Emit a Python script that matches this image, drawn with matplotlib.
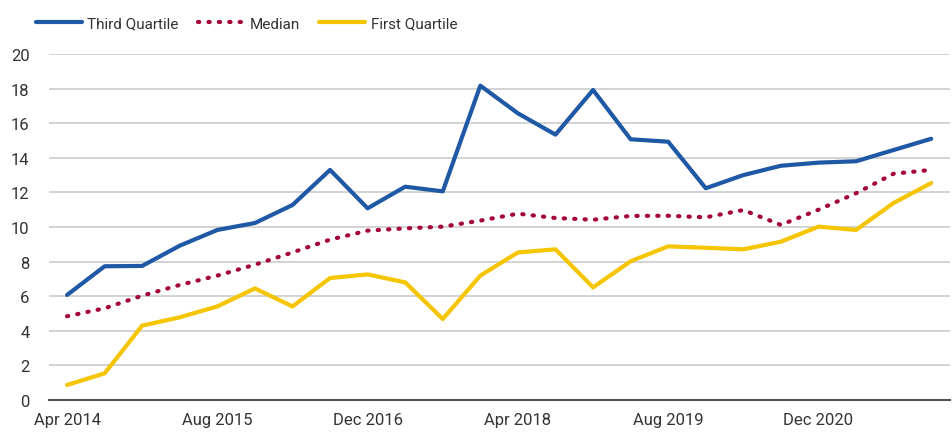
import matplotlib
matplotlib.use("Agg")
import matplotlib.pyplot as plt

plt.rcParams['font.family'] = ['Roboto', 'DejaVu Sans']

# points every 4 months from Apr 2014 to Dec 2021
dates = ["Apr 2014", "Aug 2014", "Dec 2014", "Apr 2015", "Aug 2015", "Dec 2015",
         "Apr 2016", "Aug 2016", "Dec 2016", "Apr 2017", "Aug 2017", "Dec 2017",
         "Apr 2018", "Aug 2018", "Dec 2018", "Apr 2019", "Aug 2019", "Dec 2019",
         "Apr 2020", "Aug 2020", "Dec 2020", "Apr 2021", "Aug 2021", "Dec 2021"]

third_q = [6.07, 7.73, 7.75, 8.92, 9.83, 10.23, 11.27, 13.3, 11.08, 12.33, 12.06, 18.17,
           16.57, 15.34, 17.92, 15.07, 14.93, 12.24, 13.0, 13.54, 13.72, 13.8, 14.45, 15.1]
median = [4.84, 5.3, 6.03, 6.65, 7.19, 7.82, 8.53, 9.27, 9.79, 9.92, 10.02, 10.37,
          10.77, 10.52, 10.42, 10.64, 10.65, 10.56, 10.98, 10.12, 11.0, 11.95, 13.08, 13.3]
first_q = [0.87, 1.54, 4.3, 4.78, 5.41, 6.45, 5.41, 7.05, 7.26, 6.8, 4.68, 7.19,
           8.53, 8.71, 6.51, 8.02, 8.88, 8.8, 8.71, 9.15, 10.02, 9.83, 11.39, 12.54]

x = list(range(len(dates)))

fig = plt.figure(figsize=(9.52, 4.35), dpi=100)
ax = fig.add_axes([49/952, 1 - 401/435, (950-49)/952, (401-55)/435])

ax.plot(x, third_q, color='#1f58a5', lw=3, label='Third Quartile', solid_capstyle='round')
ax.plot(x, median, color='#a3003c', lw=3, ls=(0, (0.3, 2.2)), dash_capstyle='round', label='Median')
ax.plot(x, first_q, color='#f5c500', lw=3, label='First Quartile', solid_capstyle='round')

ax.set_xlim(-0.48, 23.5)
ax.set_ylim(0, 20)
ax.set_yticks(range(0, 21, 2))
ax.set_xticks(x[::4])
ax.set_xticklabels(dates[::4])
ax.grid(axis='y', color='#c8c8c8', lw=1.1)
ax.set_axisbelow(True)
for s in ['left', 'right', 'top']:
    ax.spines[s].set_visible(False)
ax.spines['bottom'].set_color('#555555')
ax.spines['bottom'].set_linewidth(1.5)
ax.tick_params(length=0, labelsize=12, colors='#333333')
ax.tick_params(axis='y', pad=14)
ax.tick_params(axis='x', pad=9)

ax.legend(loc='upper left', bbox_to_anchor=(-0.03, 1.148), ncol=3, frameon=False,
          fontsize=11, handlelength=3.0, columnspacing=1.3, handletextpad=0.35,
          labelcolor='#333333')

fig.savefig('out.png', dpi=100)
